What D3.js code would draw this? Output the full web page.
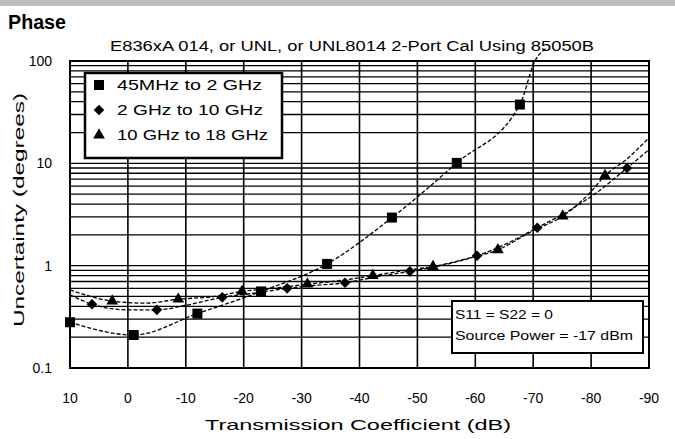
<!DOCTYPE html>
<html><head><meta charset="utf-8">
<script src="https://cdn.jsdelivr.net/npm/d3@7/dist/d3.min.js"></script>
<style>body{margin:0;background:#fff}svg{display:block}</style>
</head><body>
<script>
// ---- data ----
const xTicks = [10, 0, -10, -20, -30, -40, -50, -60, -70, -80, -90];
const yTickLabels = [[100, "100"], [10, "10"], [1, "1"], [0.1, "0.1"]];
const seriesNames = ["45MHz to 2  GHz", "2 GHz to 10 GHz", "10 GHz to 18 GHz"];

// 45 MHz to 2 GHz (squares)
const s1CurveX = [10, -1, -12, -23, -34.4, -45.6, -56.8, -67.7, -70.3, -72.4];
const s1CurveY = [0.28, 0.21, 0.34, 0.56, 1.04, 2.95, 10.1, 37.5, 100, 135];
const s1MarkX = [10, -1, -12, -23, -34.4, -45.6, -56.8, -67.7];
const s1MarkY = [0.28, 0.21, 0.34, 0.56, 1.04, 2.95, 10.1, 37.5];

// 2 GHz to 10 GHz (diamonds)
const s2CurveX = [10, 6.2, 0, -5, -10, -16.3, -22, -27.5, -32, -37.5, -43, -48.7, -54, -60.3, -65, -70.7, -76, -81, -86.2, -90];
const s2CurveY = [0.52, 0.42, 0.37, 0.37, 0.41, 0.49, 0.54, 0.6, 0.64, 0.68, 0.78, 0.88, 1.0, 1.25, 1.6, 2.35, 3.4, 5.2, 9.0, 13.6];
const s2MarkX = [6.2, -5, -16.3, -27.5, -37.5, -48.7, -60.3, -70.7, -86.2];
const s2MarkY = [0.42, 0.37, 0.49, 0.6, 0.68, 0.88, 1.25, 2.35, 9.0];

// 10 GHz to 18 GHz (triangles)
const s3CurveX = [10, 2.7, -3, -8.7, -15, -19.7, -25, -31, -37, -42.3, -48, -52.7, -58, -63.9, -70, -75.1, -80, -82.4, -86, -90];
const s3CurveY = [0.58, 0.45, 0.43, 0.47, 0.5, 0.56, 0.6, 0.66, 0.72, 0.8, 0.9, 0.98, 1.15, 1.43, 2.2, 3.05, 5.3, 7.6, 10.8, 17.8];
const s3MarkX = [2.7, -8.7, -19.7, -31, -42.3, -52.7, -63.9, -75.1, -82.4];
const s3MarkY = [0.45, 0.47, 0.56, 0.66, 0.8, 0.98, 1.43, 3.05, 7.6];

const noteLines = ["S11 = S22 = 0", "Source Power = -17 dBm"];

// ---- drawing ----
const W = 675, H = 439;
const FONT = "'Liberation Sans', Arial, sans-serif";
const svg = d3.select("body").append("svg").attr("width", W).attr("height", H);

const x = d3.scaleLinear().domain([10, -90]).range([70, 649]);
const y = d3.scaleLog().domain([0.1, 100]).range([368, 61]);

// top gray bar
svg.append("rect").attr("x", 0).attr("y", 0).attr("width", W).attr("height", 6).attr("fill", "#bdbdbd");

svg.append("text").attr("x", 8).attr("y", 29).attr("font-family", FONT).attr("font-weight", "bold")
  .attr("font-size", 20).attr("textLength", 58).attr("lengthAdjust", "spacingAndGlyphs").text("Phase");

svg.append("text").attr("x", 110).attr("y", 51).attr("font-family", FONT).attr("font-size", 14)
  .attr("textLength", 484).attr("lengthAdjust", "spacingAndGlyphs")
  .text("E836xA 014, or UNL, or UNL8014 2-Port Cal Using 85050B");

// grid
const g = svg.append("g");
const minor = [];
for (let e = -1; e < 2; e++) for (let m = 1; m <= 9; m++) minor.push(m * Math.pow(10, e));
minor.push(100);
g.selectAll("line.h").data(minor).enter().append("line")
  .attr("x1", x(10)).attr("x2", x(-90)).attr("y1", d => y(d)).attr("y2", d => y(d))
  .attr("stroke", "#000").attr("stroke-width", 1.3);
g.selectAll("line.v").data(xTicks).enter().append("line")
  .attr("y1", y(0.1)).attr("y2", y(100)).attr("x1", d => x(d)).attr("x2", d => x(d))
  .attr("stroke", "#000").attr("stroke-width", 1.6);
g.append("rect").attr("x", x(10)).attr("y", y(100)).attr("width", x(-90) - x(10)).attr("height", y(0.1) - y(100))
  .attr("fill", "none").attr("stroke", "#000").attr("stroke-width", 2);

// axes labels
svg.selectAll("text.yt").data(yTickLabels).enter().append("text")
  .attr("x", 52).attr("y", d => y(d[0]) + 5).attr("text-anchor", "end")
  .attr("font-family", FONT).attr("font-size", 14).text(d => d[1]);
svg.selectAll("text.xt").data(xTicks).enter().append("text")
  .attr("x", d => x(d)).attr("y", 403).attr("text-anchor", "middle")
  .attr("font-family", FONT).attr("font-size", 14).text(d => d);
svg.append("text").attr("x", 205).attr("y", 430).attr("font-family", FONT).attr("font-size", 14.5)
  .attr("textLength", 306).attr("lengthAdjust", "spacingAndGlyphs").text("Transmission Coefficient (dB)");
svg.append("text").attr("transform", "translate(24,327) rotate(-90)").attr("font-family", FONT).attr("font-size", 14.5)
  .attr("textLength", 234).attr("lengthAdjust", "spacingAndGlyphs").text("Uncertainty (degrees)");

// curves
const line = d3.line().x(d => x(d[0])).y(d => y(d[1])).curve(d3.curveMonotoneX);
const zip = (a, b) => a.map((v, i) => [v, b[i]]);
[[s1CurveX, s1CurveY], [s2CurveX, s2CurveY], [s3CurveX, s3CurveY]].forEach(([cx, cy]) => {
  svg.append("path").attr("d", line(zip(cx, cy))).attr("fill", "none").attr("stroke", "#000")
    .attr("stroke-width", 1.3).attr("stroke-dasharray", "4,2");
});

const sq = d3.symbol().type(d3.symbolSquare).size(100);
const di = d3.symbol().type(d3.symbolDiamond2).size(72);
const tr = d3.symbol().type(d3.symbolTriangle).size(60);
const drawMarks = (mx, my, sym) => svg.append("g").selectAll("path").data(zip(mx, my)).enter().append("path")
  .attr("transform", d => `translate(${x(d[0])},${y(d[1])})`).attr("d", sym).attr("fill", "#000");
drawMarks(s1MarkX, s1MarkY, sq);
drawMarks(s2MarkX, s2MarkY, di);
drawMarks(s3MarkX, s3MarkY, tr);

// legend
const lg = svg.append("g");
lg.append("rect").attr("x", 85).attr("y", 73).attr("width", 197).attr("height", 85)
  .attr("fill", "#fff").attr("stroke", "#000").attr("stroke-width", 2.5);
const legSyms = [sq, di, tr];
const legW = [145, 146, 151];
seriesNames.forEach((n, i) => {
  const cy = 85 + i * 25;
  lg.append("path").attr("transform", `translate(99,${cy})`).attr("d", legSyms[i]).attr("fill", "#000");
  lg.append("text").attr("x", 117).attr("y", cy + 5).attr("font-family", FONT).attr("font-size", 14)
    .attr("textLength", legW[i]).attr("lengthAdjust", "spacingAndGlyphs").text(n);
});

// note box
const nb = svg.append("g");
nb.append("rect").attr("x", 452).attr("y", 301).attr("width", 191).attr("height", 52)
  .attr("fill", "#fff").attr("stroke", "#000").attr("stroke-width", 2);
const noteW = [98, 178];
noteLines.forEach((t, i) => {
  nb.append("text").attr("x", 455).attr("y", 319 + i * 21).attr("font-family", FONT).attr("font-size", 12)
    .attr("textLength", noteW[i]).attr("lengthAdjust", "spacingAndGlyphs").text(t);
});
</script>
</body></html>
